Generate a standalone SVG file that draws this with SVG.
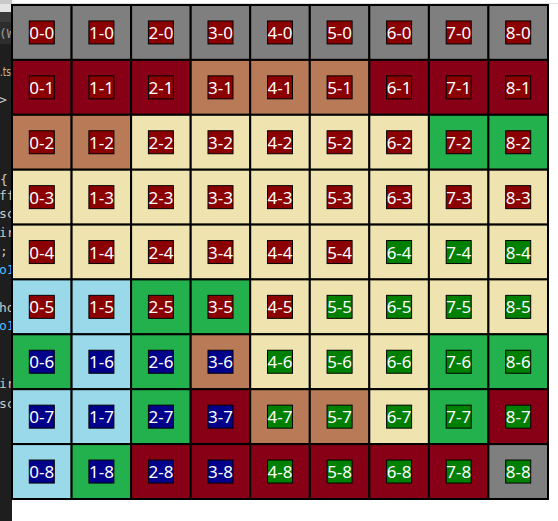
<svg xmlns="http://www.w3.org/2000/svg" width="558" height="521" viewBox="0 0 558 521">
<defs>
<clipPath id="strip"><rect x="0" y="0" width="11" height="521"/></clipPath>
</defs>
<style>
.cell{stroke:#000;stroke-width:2}
.g{fill:#7f7f7f}.r{fill:#880015}.t{fill:#b97a57}.b{fill:#efe4b0}.n{fill:#22b14c}.l{fill:#99d9ea}
.lab{stroke:#000;stroke-width:1}
.LR{fill:#8b0000}.LN{fill:#008000}.LB{fill:#00008b}
text{font-family:"Noto Sans","Open Sans","DejaVu Sans",sans-serif;font-size:17px;fill:#fff;text-anchor:middle}
.code{font-family:"DejaVu Sans Mono","Liberation Mono",monospace;font-size:13px;text-anchor:start;fill:#c8c8c8}
</style>
<rect x="0" y="0" width="558" height="521" fill="#fff"/>
<rect x="0" y="3" width="558" height="1" fill="#e0e0e0"/>
<g id="editor-strip">
<rect x="0" y="0" width="12" height="521" fill="#1e1e1e"/>
<rect x="0" y="0" width="12" height="4" fill="#c8c8c8"/>
<rect x="0" y="4" width="12" height="8" fill="#e4e4e4"/>
<rect x="0" y="12" width="12" height="10" fill="#3c3c3c"/>
<rect x="0" y="22" width="12" height="22" fill="#2d2d2d"/>
<text class="code" x="0" y="76" textLength="11" lengthAdjust="spacingAndGlyphs" style="fill:#d7ba7d;font-size:12px;font-family:'DejaVu Sans',sans-serif">.ts</text>
<g clip-path="url(#strip)">
<text class="code" x="-1" y="38" style="fill:#9a9a9a">(W</text>
<text class="code" x="-1" y="104">&gt;</text>
<text class="code" x="0" y="184">{</text>
<text class="code" x="-1" y="200">ff</text>
<text class="code" x="-1" y="218">sc</text>
<text class="code" x="-1" y="237">ir</text>
<text class="code" x="0" y="255">;</text>
<text class="code" x="-1" y="274" style="fill:#4fc1ff">o1</text>
<text class="code" x="-1" y="312">ho</text>
<text class="code" x="-1" y="330" style="fill:#4fc1ff">o1</text>
<text class="code" x="-1" y="388">ir</text>
<text class="code" x="-1" y="408">sc</text>
</g>
</g>
<g id="connectors"/>
<g id="grid">
<g id="c0-0" transform="translate(12,5)"><rect class="cell g" width="59.6" height="54.9"/><rect class="lab LR" x="17.3" y="15.95" width="25" height="23"/><text x="29.8" y="33.95">0-0</text></g>
<g id="c1-0" transform="translate(71.6,5)"><rect class="cell g" width="59.6" height="54.9"/><rect class="lab LR" x="17.3" y="15.95" width="25" height="23"/><text x="29.8" y="33.95">1-0</text></g>
<g id="c2-0" transform="translate(131.1,5)"><rect class="cell g" width="59.6" height="54.9"/><rect class="lab LR" x="17.3" y="15.95" width="25" height="23"/><text x="29.8" y="33.95">2-0</text></g>
<g id="c3-0" transform="translate(190.7,5)"><rect class="cell g" width="59.6" height="54.9"/><rect class="lab LR" x="17.3" y="15.95" width="25" height="23"/><text x="29.8" y="33.95">3-0</text></g>
<g id="c4-0" transform="translate(250.2,5)"><rect class="cell g" width="59.6" height="54.9"/><rect class="lab LR" x="17.3" y="15.95" width="25" height="23"/><text x="29.8" y="33.95">4-0</text></g>
<g id="c5-0" transform="translate(309.8,5)"><rect class="cell g" width="59.6" height="54.9"/><rect class="lab LR" x="17.3" y="15.95" width="25" height="23"/><text x="29.8" y="33.95">5-0</text></g>
<g id="c6-0" transform="translate(369.3,5)"><rect class="cell g" width="59.6" height="54.9"/><rect class="lab LR" x="17.3" y="15.95" width="25" height="23"/><text x="29.8" y="33.95">6-0</text></g>
<g id="c7-0" transform="translate(428.9,5)"><rect class="cell g" width="59.6" height="54.9"/><rect class="lab LR" x="17.3" y="15.95" width="25" height="23"/><text x="29.8" y="33.95">7-0</text></g>
<g id="c8-0" transform="translate(488.4,5)"><rect class="cell g" width="59.6" height="54.9"/><rect class="lab LR" x="17.3" y="15.95" width="25" height="23"/><text x="29.8" y="33.95">8-0</text></g>

<g id="c0-1" transform="translate(12,59.9)"><rect class="cell r" width="59.6" height="54.9"/><rect class="lab LR" x="17.3" y="15.95" width="25" height="23"/><text x="29.8" y="33.95">0-1</text></g>
<g id="c1-1" transform="translate(71.6,59.9)"><rect class="cell r" width="59.6" height="54.9"/><rect class="lab LR" x="17.3" y="15.95" width="25" height="23"/><text x="29.8" y="33.95">1-1</text></g>
<g id="c2-1" transform="translate(131.1,59.9)"><rect class="cell r" width="59.6" height="54.9"/><rect class="lab LR" x="17.3" y="15.95" width="25" height="23"/><text x="29.8" y="33.95">2-1</text></g>
<g id="c3-1" transform="translate(190.7,59.9)"><rect class="cell t" width="59.6" height="54.9"/><rect class="lab LR" x="17.3" y="15.95" width="25" height="23"/><text x="29.8" y="33.95">3-1</text></g>
<g id="c4-1" transform="translate(250.2,59.9)"><rect class="cell t" width="59.6" height="54.9"/><rect class="lab LR" x="17.3" y="15.95" width="25" height="23"/><text x="29.8" y="33.95">4-1</text></g>
<g id="c5-1" transform="translate(309.8,59.9)"><rect class="cell t" width="59.6" height="54.9"/><rect class="lab LR" x="17.3" y="15.95" width="25" height="23"/><text x="29.8" y="33.95">5-1</text></g>
<g id="c6-1" transform="translate(369.3,59.9)"><rect class="cell r" width="59.6" height="54.9"/><rect class="lab LR" x="17.3" y="15.95" width="25" height="23"/><text x="29.8" y="33.95">6-1</text></g>
<g id="c7-1" transform="translate(428.9,59.9)"><rect class="cell r" width="59.6" height="54.9"/><rect class="lab LR" x="17.3" y="15.95" width="25" height="23"/><text x="29.8" y="33.95">7-1</text></g>
<g id="c8-1" transform="translate(488.4,59.9)"><rect class="cell r" width="59.6" height="54.9"/><rect class="lab LR" x="17.3" y="15.95" width="25" height="23"/><text x="29.8" y="33.95">8-1</text></g>

<g id="c0-2" transform="translate(12,114.8)"><rect class="cell t" width="59.6" height="54.9"/><rect class="lab LR" x="17.3" y="15.95" width="25" height="23"/><text x="29.8" y="33.95">0-2</text></g>
<g id="c1-2" transform="translate(71.6,114.8)"><rect class="cell t" width="59.6" height="54.9"/><rect class="lab LR" x="17.3" y="15.95" width="25" height="23"/><text x="29.8" y="33.95">1-2</text></g>
<g id="c2-2" transform="translate(131.1,114.8)"><rect class="cell b" width="59.6" height="54.9"/><rect class="lab LR" x="17.3" y="15.95" width="25" height="23"/><text x="29.8" y="33.95">2-2</text></g>
<g id="c3-2" transform="translate(190.7,114.8)"><rect class="cell b" width="59.6" height="54.9"/><rect class="lab LR" x="17.3" y="15.95" width="25" height="23"/><text x="29.8" y="33.95">3-2</text></g>
<g id="c4-2" transform="translate(250.2,114.8)"><rect class="cell b" width="59.6" height="54.9"/><rect class="lab LR" x="17.3" y="15.95" width="25" height="23"/><text x="29.8" y="33.95">4-2</text></g>
<g id="c5-2" transform="translate(309.8,114.8)"><rect class="cell b" width="59.6" height="54.9"/><rect class="lab LR" x="17.3" y="15.95" width="25" height="23"/><text x="29.8" y="33.95">5-2</text></g>
<g id="c6-2" transform="translate(369.3,114.8)"><rect class="cell b" width="59.6" height="54.9"/><rect class="lab LR" x="17.3" y="15.95" width="25" height="23"/><text x="29.8" y="33.95">6-2</text></g>
<g id="c7-2" transform="translate(428.9,114.8)"><rect class="cell n" width="59.6" height="54.9"/><rect class="lab LR" x="17.3" y="15.95" width="25" height="23"/><text x="29.8" y="33.95">7-2</text></g>
<g id="c8-2" transform="translate(488.4,114.8)"><rect class="cell n" width="59.6" height="54.9"/><rect class="lab LR" x="17.3" y="15.95" width="25" height="23"/><text x="29.8" y="33.95">8-2</text></g>

<g id="c0-3" transform="translate(12,169.7)"><rect class="cell b" width="59.6" height="54.9"/><rect class="lab LR" x="17.3" y="15.95" width="25" height="23"/><text x="29.8" y="33.95">0-3</text></g>
<g id="c1-3" transform="translate(71.6,169.7)"><rect class="cell b" width="59.6" height="54.9"/><rect class="lab LR" x="17.3" y="15.95" width="25" height="23"/><text x="29.8" y="33.95">1-3</text></g>
<g id="c2-3" transform="translate(131.1,169.7)"><rect class="cell b" width="59.6" height="54.9"/><rect class="lab LR" x="17.3" y="15.95" width="25" height="23"/><text x="29.8" y="33.95">2-3</text></g>
<g id="c3-3" transform="translate(190.7,169.7)"><rect class="cell b" width="59.6" height="54.9"/><rect class="lab LR" x="17.3" y="15.95" width="25" height="23"/><text x="29.8" y="33.95">3-3</text></g>
<g id="c4-3" transform="translate(250.2,169.7)"><rect class="cell b" width="59.6" height="54.9"/><rect class="lab LR" x="17.3" y="15.95" width="25" height="23"/><text x="29.8" y="33.95">4-3</text></g>
<g id="c5-3" transform="translate(309.8,169.7)"><rect class="cell b" width="59.6" height="54.9"/><rect class="lab LR" x="17.3" y="15.95" width="25" height="23"/><text x="29.8" y="33.95">5-3</text></g>
<g id="c6-3" transform="translate(369.3,169.7)"><rect class="cell b" width="59.6" height="54.9"/><rect class="lab LR" x="17.3" y="15.95" width="25" height="23"/><text x="29.8" y="33.95">6-3</text></g>
<g id="c7-3" transform="translate(428.9,169.7)"><rect class="cell b" width="59.6" height="54.9"/><rect class="lab LR" x="17.3" y="15.95" width="25" height="23"/><text x="29.8" y="33.95">7-3</text></g>
<g id="c8-3" transform="translate(488.4,169.7)"><rect class="cell b" width="59.6" height="54.9"/><rect class="lab LR" x="17.3" y="15.95" width="25" height="23"/><text x="29.8" y="33.95">8-3</text></g>

<g id="c0-4" transform="translate(12,224.6)"><rect class="cell b" width="59.6" height="54.9"/><rect class="lab LR" x="17.3" y="15.95" width="25" height="23"/><text x="29.8" y="33.95">0-4</text></g>
<g id="c1-4" transform="translate(71.6,224.6)"><rect class="cell b" width="59.6" height="54.9"/><rect class="lab LR" x="17.3" y="15.95" width="25" height="23"/><text x="29.8" y="33.95">1-4</text></g>
<g id="c2-4" transform="translate(131.1,224.6)"><rect class="cell b" width="59.6" height="54.9"/><rect class="lab LR" x="17.3" y="15.95" width="25" height="23"/><text x="29.8" y="33.95">2-4</text></g>
<g id="c3-4" transform="translate(190.7,224.6)"><rect class="cell b" width="59.6" height="54.9"/><rect class="lab LR" x="17.3" y="15.95" width="25" height="23"/><text x="29.8" y="33.95">3-4</text></g>
<g id="c4-4" transform="translate(250.2,224.6)"><rect class="cell b" width="59.6" height="54.9"/><rect class="lab LR" x="17.3" y="15.95" width="25" height="23"/><text x="29.8" y="33.95">4-4</text></g>
<g id="c5-4" transform="translate(309.8,224.6)"><rect class="cell b" width="59.6" height="54.9"/><rect class="lab LR" x="17.3" y="15.95" width="25" height="23"/><text x="29.8" y="33.95">5-4</text></g>
<g id="c6-4" transform="translate(369.3,224.6)"><rect class="cell b" width="59.6" height="54.9"/><rect class="lab LN" x="17.3" y="15.95" width="25" height="23"/><text x="29.8" y="33.95">6-4</text></g>
<g id="c7-4" transform="translate(428.9,224.6)"><rect class="cell b" width="59.6" height="54.9"/><rect class="lab LN" x="17.3" y="15.95" width="25" height="23"/><text x="29.8" y="33.95">7-4</text></g>
<g id="c8-4" transform="translate(488.4,224.6)"><rect class="cell b" width="59.6" height="54.9"/><rect class="lab LN" x="17.3" y="15.95" width="25" height="23"/><text x="29.8" y="33.95">8-4</text></g>

<g id="c0-5" transform="translate(12,279.4)"><rect class="cell l" width="59.6" height="54.9"/><rect class="lab LR" x="17.3" y="15.95" width="25" height="23"/><text x="29.8" y="33.95">0-5</text></g>
<g id="c1-5" transform="translate(71.6,279.4)"><rect class="cell l" width="59.6" height="54.9"/><rect class="lab LR" x="17.3" y="15.95" width="25" height="23"/><text x="29.8" y="33.95">1-5</text></g>
<g id="c2-5" transform="translate(131.1,279.4)"><rect class="cell n" width="59.6" height="54.9"/><rect class="lab LR" x="17.3" y="15.95" width="25" height="23"/><text x="29.8" y="33.95">2-5</text></g>
<g id="c3-5" transform="translate(190.7,279.4)"><rect class="cell n" width="59.6" height="54.9"/><rect class="lab LR" x="17.3" y="15.95" width="25" height="23"/><text x="29.8" y="33.95">3-5</text></g>
<g id="c4-5" transform="translate(250.2,279.4)"><rect class="cell b" width="59.6" height="54.9"/><rect class="lab LR" x="17.3" y="15.95" width="25" height="23"/><text x="29.8" y="33.95">4-5</text></g>
<g id="c5-5" transform="translate(309.8,279.4)"><rect class="cell b" width="59.6" height="54.9"/><rect class="lab LN" x="17.3" y="15.95" width="25" height="23"/><text x="29.8" y="33.95">5-5</text></g>
<g id="c6-5" transform="translate(369.3,279.4)"><rect class="cell b" width="59.6" height="54.9"/><rect class="lab LN" x="17.3" y="15.95" width="25" height="23"/><text x="29.8" y="33.95">6-5</text></g>
<g id="c7-5" transform="translate(428.9,279.4)"><rect class="cell b" width="59.6" height="54.9"/><rect class="lab LN" x="17.3" y="15.95" width="25" height="23"/><text x="29.8" y="33.95">7-5</text></g>
<g id="c8-5" transform="translate(488.4,279.4)"><rect class="cell b" width="59.6" height="54.9"/><rect class="lab LN" x="17.3" y="15.95" width="25" height="23"/><text x="29.8" y="33.95">8-5</text></g>

<g id="c0-6" transform="translate(12,334.3)"><rect class="cell n" width="59.6" height="54.9"/><rect class="lab LB" x="17.3" y="15.95" width="25" height="23"/><text x="29.8" y="33.95">0-6</text></g>
<g id="c1-6" transform="translate(71.6,334.3)"><rect class="cell l" width="59.6" height="54.9"/><rect class="lab LB" x="17.3" y="15.95" width="25" height="23"/><text x="29.8" y="33.95">1-6</text></g>
<g id="c2-6" transform="translate(131.1,334.3)"><rect class="cell n" width="59.6" height="54.9"/><rect class="lab LB" x="17.3" y="15.95" width="25" height="23"/><text x="29.8" y="33.95">2-6</text></g>
<g id="c3-6" transform="translate(190.7,334.3)"><rect class="cell t" width="59.6" height="54.9"/><rect class="lab LB" x="17.3" y="15.95" width="25" height="23"/><text x="29.8" y="33.95">3-6</text></g>
<g id="c4-6" transform="translate(250.2,334.3)"><rect class="cell b" width="59.6" height="54.9"/><rect class="lab LN" x="17.3" y="15.95" width="25" height="23"/><text x="29.8" y="33.95">4-6</text></g>
<g id="c5-6" transform="translate(309.8,334.3)"><rect class="cell b" width="59.6" height="54.9"/><rect class="lab LN" x="17.3" y="15.95" width="25" height="23"/><text x="29.8" y="33.95">5-6</text></g>
<g id="c6-6" transform="translate(369.3,334.3)"><rect class="cell b" width="59.6" height="54.9"/><rect class="lab LN" x="17.3" y="15.95" width="25" height="23"/><text x="29.8" y="33.95">6-6</text></g>
<g id="c7-6" transform="translate(428.9,334.3)"><rect class="cell n" width="59.6" height="54.9"/><rect class="lab LN" x="17.3" y="15.95" width="25" height="23"/><text x="29.8" y="33.95">7-6</text></g>
<g id="c8-6" transform="translate(488.4,334.3)"><rect class="cell n" width="59.6" height="54.9"/><rect class="lab LN" x="17.3" y="15.95" width="25" height="23"/><text x="29.8" y="33.95">8-6</text></g>

<g id="c0-7" transform="translate(12,389.2)"><rect class="cell l" width="59.6" height="54.9"/><rect class="lab LB" x="17.3" y="15.95" width="25" height="23"/><text x="29.8" y="33.95">0-7</text></g>
<g id="c1-7" transform="translate(71.6,389.2)"><rect class="cell l" width="59.6" height="54.9"/><rect class="lab LB" x="17.3" y="15.95" width="25" height="23"/><text x="29.8" y="33.95">1-7</text></g>
<g id="c2-7" transform="translate(131.1,389.2)"><rect class="cell n" width="59.6" height="54.9"/><rect class="lab LB" x="17.3" y="15.95" width="25" height="23"/><text x="29.8" y="33.95">2-7</text></g>
<g id="c3-7" transform="translate(190.7,389.2)"><rect class="cell r" width="59.6" height="54.9"/><rect class="lab LB" x="17.3" y="15.95" width="25" height="23"/><text x="29.8" y="33.95">3-7</text></g>
<g id="c4-7" transform="translate(250.2,389.2)"><rect class="cell t" width="59.6" height="54.9"/><rect class="lab LN" x="17.3" y="15.95" width="25" height="23"/><text x="29.8" y="33.95">4-7</text></g>
<g id="c5-7" transform="translate(309.8,389.2)"><rect class="cell t" width="59.6" height="54.9"/><rect class="lab LN" x="17.3" y="15.95" width="25" height="23"/><text x="29.8" y="33.95">5-7</text></g>
<g id="c6-7" transform="translate(369.3,389.2)"><rect class="cell b" width="59.6" height="54.9"/><rect class="lab LN" x="17.3" y="15.95" width="25" height="23"/><text x="29.8" y="33.95">6-7</text></g>
<g id="c7-7" transform="translate(428.9,389.2)"><rect class="cell n" width="59.6" height="54.9"/><rect class="lab LN" x="17.3" y="15.95" width="25" height="23"/><text x="29.8" y="33.95">7-7</text></g>
<g id="c8-7" transform="translate(488.4,389.2)"><rect class="cell r" width="59.6" height="54.9"/><rect class="lab LN" x="17.3" y="15.95" width="25" height="23"/><text x="29.8" y="33.95">8-7</text></g>

<g id="c0-8" transform="translate(12,444.1)"><rect class="cell l" width="59.6" height="54.9"/><rect class="lab LB" x="17.3" y="15.95" width="25" height="23"/><text x="29.8" y="33.95">0-8</text></g>
<g id="c1-8" transform="translate(71.6,444.1)"><rect class="cell n" width="59.6" height="54.9"/><rect class="lab LB" x="17.3" y="15.95" width="25" height="23"/><text x="29.8" y="33.95">1-8</text></g>
<g id="c2-8" transform="translate(131.1,444.1)"><rect class="cell r" width="59.6" height="54.9"/><rect class="lab LB" x="17.3" y="15.95" width="25" height="23"/><text x="29.8" y="33.95">2-8</text></g>
<g id="c3-8" transform="translate(190.7,444.1)"><rect class="cell r" width="59.6" height="54.9"/><rect class="lab LB" x="17.3" y="15.95" width="25" height="23"/><text x="29.8" y="33.95">3-8</text></g>
<g id="c4-8" transform="translate(250.2,444.1)"><rect class="cell r" width="59.6" height="54.9"/><rect class="lab LN" x="17.3" y="15.95" width="25" height="23"/><text x="29.8" y="33.95">4-8</text></g>
<g id="c5-8" transform="translate(309.8,444.1)"><rect class="cell r" width="59.6" height="54.9"/><rect class="lab LN" x="17.3" y="15.95" width="25" height="23"/><text x="29.8" y="33.95">5-8</text></g>
<g id="c6-8" transform="translate(369.3,444.1)"><rect class="cell r" width="59.6" height="54.9"/><rect class="lab LN" x="17.3" y="15.95" width="25" height="23"/><text x="29.8" y="33.95">6-8</text></g>
<g id="c7-8" transform="translate(428.9,444.1)"><rect class="cell r" width="59.6" height="54.9"/><rect class="lab LN" x="17.3" y="15.95" width="25" height="23"/><text x="29.8" y="33.95">7-8</text></g>
<g id="c8-8" transform="translate(488.4,444.1)"><rect class="cell g" width="59.6" height="54.9"/><rect class="lab LN" x="17.3" y="15.95" width="25" height="23"/><text x="29.8" y="33.95">8-8</text></g>
</g>
</svg>
